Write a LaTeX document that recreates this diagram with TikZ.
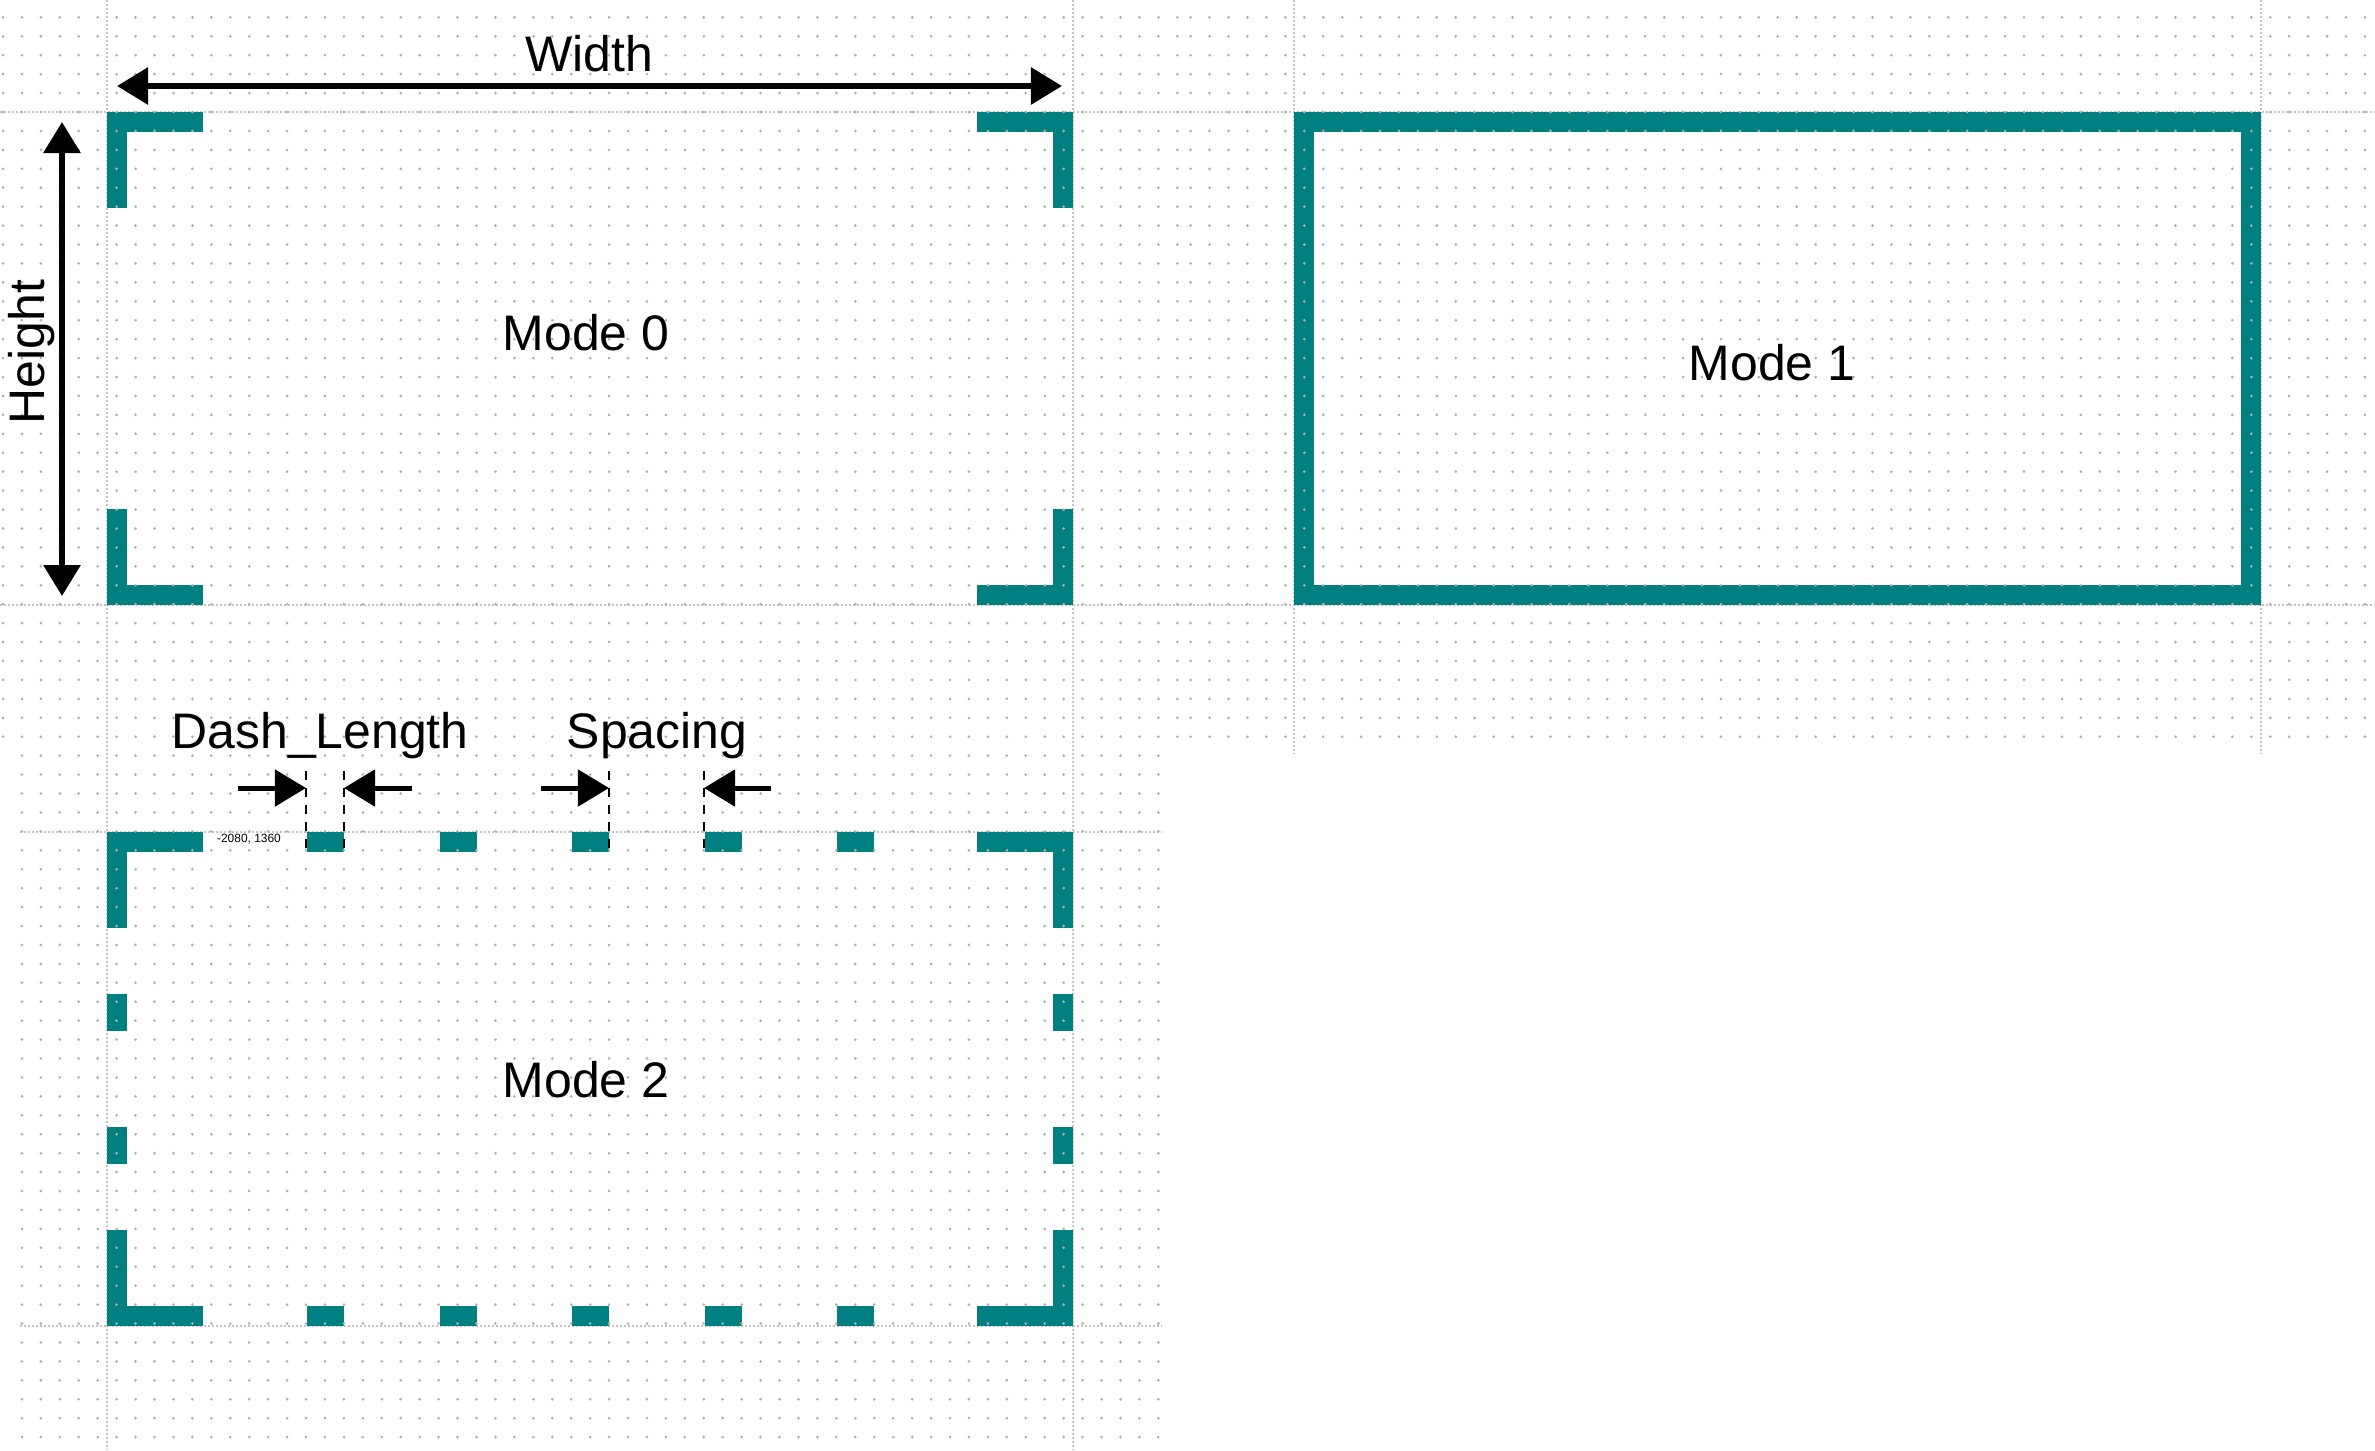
\documentclass[tikz,border=0pt]{standalone}
\usepackage{fontspec}
\setmainfont{Liberation Sans}
\usetikzlibrary{arrows.meta}
\definecolor{tealc}{RGB}{0,128,128}
\definecolor{dotgray}{RGB}{175,175,175}
\definecolor{guidegray}{RGB}{195,195,195}

\begin{document}
\begin{tikzpicture}[
    x=0.01cm, y=-0.01cm,
    >={Triangle[length=0.31cm, width=0.36cm]},
    bar/.style={draw=tealc, line width=0.2cm, line join=miter, line cap=butt},
    griddots/.style={draw=dotgray, line width=0.03cm, line cap=round, dash pattern=on 0pt off 0.1893cm},
    guide/.style={draw=guidegray, line width=0.012cm, dash pattern=on 0.02cm off 0.02cm},
    dimline/.style={draw=black, line width=0.06cm, <->},
    pointer/.style={draw=black, line width=0.05cm, ->},
    marker/.style={draw=black, line width=0.025cm, dash pattern=on 0.09cm off 0.08cm},
    lbl/.style={font=\fontsize{14.2}{17}\selectfont, inner sep=0pt},
    coordlbl/.style={font=\fontsize{3.4}{4}\selectfont, inner sep=0pt},
]
\useasboundingbox (0,0) rectangle (2375,1450);

% Guides
\draw[guide] (0,112) -- (2375,112);
\draw[guide] (0,605) -- (2375,605);
\draw[guide] (20,832) -- (1162,832);
\draw[guide] (20,1326) -- (1162,1326);
\draw[guide] (107,0) -- (107,1450);
\draw[guide] (1073,0) -- (1073,1450);
\draw[guide] (1294,0) -- (1294,754);
\draw[guide] (2261,0) -- (2261,754);

% Mode 0
\draw[bar] (117,208) -- (117,122) -- (203,122);
\draw[bar] (977,122) -- (1063,122) -- (1063,208);
\draw[bar] (117,509) -- (117,595) -- (203,595);
\draw[bar] (977,595) -- (1063,595) -- (1063,509);

% Mode 1
\draw[bar] (1304,122) rectangle (2251,595);

% Mode 2
\draw[bar] (117,928) -- (117,842) -- (203,842);
\draw[bar] (977,842) -- (1063,842) -- (1063,928);
\draw[bar] (117,1230) -- (117,1316) -- (203,1316);
\draw[bar] (977,1316) -- (1063,1316) -- (1063,1230);
\foreach \cx in {325,458,590,723,855} {
  \draw[bar] (\cx-18.5,842) -- (\cx+18.5,842);
  \draw[bar] (\cx-18.5,1316) -- (\cx+18.5,1316);
}
\foreach \cy in {1012,1145} {
  \draw[bar] (117,\cy-18.5) -- (117,\cy+18.5);
  \draw[bar] (1063,\cy-18.5) -- (1063,\cy+18.5);
}

% Grid dots
\foreach \j in {0,...,38} {
  \pgfmathsetmacro{\yy}{17.35+18.93*\j}
  \draw[griddots] (3,\yy) -- (1180,\yy);
  \draw[griddots] (1190.6,\yy) -- (2370,\yy);
}
\foreach \j in {39,...,75} {
  \pgfmathsetmacro{\yy}{17.35+18.93*\j}
  \draw[griddots] (21.9,\yy) -- (1160,\yy);
}

% Width and Height
\coordinate (w-left) at (117,86);
\coordinate (w-right) at (1062,86);
\coordinate (h-top) at (62,122);
\coordinate (h-bot) at (62,596);
\draw[dimline] (w-left) -- (w-right);
\draw[dimline] (h-top) -- (h-bot);
\node[lbl, anchor=base] (width) at (589,71) {Width};
\node[lbl, rotate=90] (height) at (32,352) {Height};

\node[lbl, anchor=base] (mode0) at (586,350) {Mode 0};
\node[lbl, anchor=base] (mode1) at (1772,380) {Mode 1};
\node[lbl, anchor=base] (mode2) at (586,1097) {Mode 2};

% Dash_Length and Spacing
\foreach \n/\mx in {a/306, b/344, c/609, d/704} {
  \coordinate (mk-\n-top) at (\mx,771);
  \coordinate (mk-\n-bot) at (\mx,852);
  \draw[marker] (mk-\n-top) -- (mk-\n-bot);
}
\coordinate (tail-a) at (238,788);
\coordinate (tail-b) at (412,788);
\coordinate (tail-c) at (541,788);
\coordinate (tail-d) at (771,788);
\foreach \n in {a,b,c,d} {
  \draw[pointer] (tail-\n) -- (mk-\n-top |- tail-\n);
}
\node[lbl, anchor=base] (dashlen) at (320,748) {Dash\_Length};
\node[lbl, anchor=base] (spacing) at (657,748) {Spacing};
\node[coordlbl, anchor=base] (pos) at (249,842) {-2080, 1360};
\end{tikzpicture}
\end{document}
